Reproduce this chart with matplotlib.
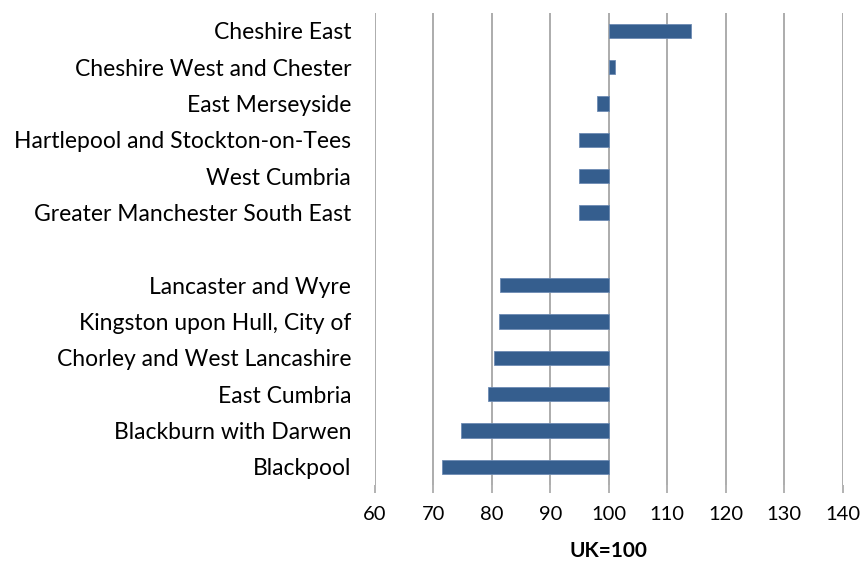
import matplotlib.pyplot as plt
import numpy as np

plt.rcParams['font.family'] = ['Lato', 'DejaVu Sans']

# regions, top to bottom ("" is the blank gap row)
regions = ["Cheshire East", "Cheshire West and Chester", "East Merseyside",
           "Hartlepool and Stockton-on-Tees", "West Cumbria",
           "Greater Manchester South East", "",
           "Lancaster and Wyre", "Kingston upon Hull, City of",
           "Chorley and West Lancashire", "East Cumbria",
           "Blackburn with Darwen", "Blackpool"]
values = [114.1, 101.0, 98.0, 95.0, 95.0, 95.0, np.nan,
          81.5, 81.3, 80.4, 79.4, 74.7, 71.5]
base = 100
xticks = [60, 70, 80, 90, 100, 110, 120, 130, 140]

fig = plt.figure(figsize=(8.63, 5.62), dpi=100)
ax = fig.add_axes([0.4342, 0.137, 0.5423, 0.8404])

y = np.arange(len(regions))
vals = np.array(values)
mask = ~np.isnan(vals)
ax.barh(y[mask], vals[mask] - base, left=base, height=0.4,
        color='#355e8e', edgecolor='#6d8bb3', lw=0.6, zorder=3)

ax.set_xlim(60, 140)
ax.set_ylim(len(regions) - 0.5, -0.5)
ax.set_xticks(xticks)
ax.set_yticks(y)
ax.set_yticklabels(regions, fontsize=16.5)
ax.tick_params(axis='y', length=0, pad=17)
ax.tick_params(axis='x', length=6, width=1.2, color='#a6a6a6', labelsize=14.5, pad=9)
ax.xaxis.grid(True, color='#a6a6a6', lw=1.3)
ax.set_axisbelow(True)
for s in ax.spines.values():
    s.set_visible(False)
ax.set_xlabel("UK=100", fontsize=15, fontweight='bold', labelpad=13)

fig.savefig("out.png", dpi=100)
